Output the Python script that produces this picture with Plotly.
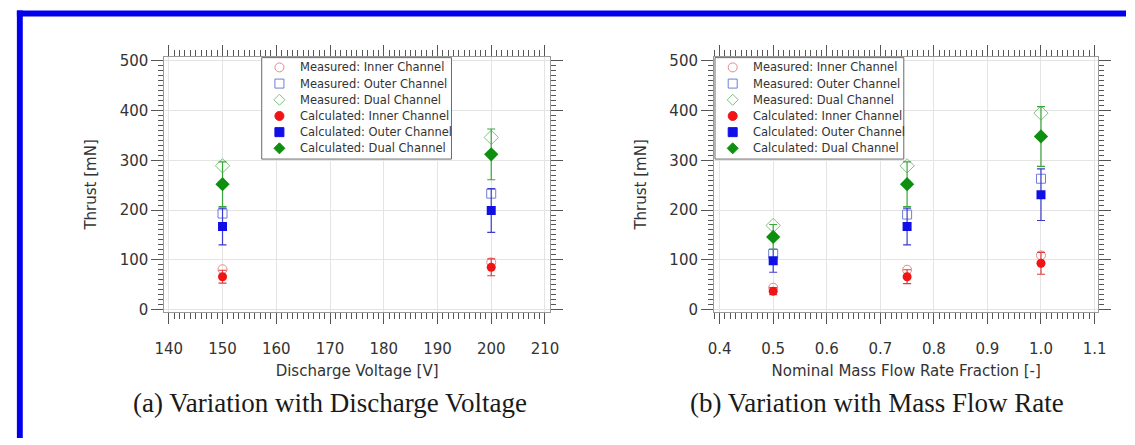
import plotly.graph_objects as go

# ---------------- data ----------------
voltage = [150, 200]
meas_inner_v = [81, 95]
meas_outer_v = [193, 233]
meas_dual_v = [289, 346]
calc_inner_v = [66, 85]
calc_inner_v_err = [13, 17]
calc_outer_v = [167, 199]
calc_outer_v_err = [37, 44]
calc_dual_v = [252, 312]
calc_dual_v_err = [45, 51]

flow = [0.5, 0.75, 1.0]
meas_inner_f = [44, 80, 109]
meas_outer_f = [112, 191, 263]
meas_dual_f = [169, 289, 395]
calc_inner_f = [37, 66, 93]
calc_inner_f_err = [7, 14, 22]
calc_outer_f = [98, 167, 231]
calc_outer_f_err = [23, 37, 52]
calc_dual_f = [146, 252, 348]
calc_dual_f_err = [25, 45, 60]

names = ["Measured: Inner Channel", "Measured: Outer Channel", "Measured: Dual Channel",
         "Calculated: Inner Channel", "Calculated: Outer Channel", "Calculated: Dual Channel"]

W, H = 1135, 445

def px(x):
    return x / W

def py(y):
    return 1 - y / H

MEAS_STYLE = [
    dict(symbol="circle-open", color="#e38b8b", size=9),
    dict(symbol="square-open", color="#6f7fd6", size=9),
    dict(symbol="diamond-open", color="#7cc47c", size=11),
]
CALC_STYLE = [
    dict(symbol="circle", color="#f01414", size=9, err="#e23a3a"),
    dict(symbol="square", color="#1010e6", size=9, err="#3b3bd0"),
    dict(symbol="diamond", color="#0f8f0f", size=11, err="#3aa53a"),
]

fig = go.Figure()

def add_panel(xv, meas, calc, errs, xa, ya):
    for i, m in enumerate(meas):
        s = MEAS_STYLE[i]
        fig.add_trace(go.Scatter(
            x=xv, y=m, mode="markers", name=names[i], xaxis=xa, yaxis=ya,
            marker=dict(symbol=s["symbol"], size=s["size"], color=s["color"],
                        line=dict(width=1, color=s["color"]))))
    for i, (c, e) in enumerate(zip(calc, errs)):
        s = CALC_STYLE[i]
        fig.add_trace(go.Scatter(
            x=xv, y=c, mode="markers", name=names[3 + i], xaxis=xa, yaxis=ya,
            error_y=dict(type="data", array=e, visible=True, color=s["err"], thickness=1.2, width=4),
            marker=dict(symbol=s["symbol"], size=s["size"], color=s["color"],
                        line=dict(width=0))))

add_panel(voltage, [meas_inner_v, meas_outer_v, meas_dual_v],
          [calc_inner_v, calc_outer_v, calc_dual_v],
          [calc_inner_v_err, calc_outer_v_err, calc_dual_v_err], "x", "y")
add_panel(flow, [meas_inner_f, meas_outer_f, meas_dual_f],
          [calc_inner_f, calc_outer_f, calc_dual_f],
          [calc_inner_f_err, calc_outer_f_err, calc_dual_f_err], "x2", "y2")

tickfont = dict(family="DejaVu Sans", size=15, color="#333333")
titlefont = dict(family="DejaVu Sans", size=15, color="#333333")

def xaxis_cfg(dom, rng, dtick, mdtick, title, anchor, fmt):
    return dict(domain=dom, range=rng, dtick=dtick, anchor=anchor, tickformat=fmt,
                showline=True, linecolor="#9a9a9a", linewidth=1, mirror="allticks",
                ticks="outside", ticklen=11, tickwidth=1, tickcolor="#555555",
                minor=dict(ticks="outside", ticklen=6, dtick=mdtick, tickcolor="#555555", showgrid=False),
                showgrid=True, gridcolor="#e4e4e4", gridwidth=1, zeroline=False,
                tickfont=tickfont, ticklabelstandoff=12,
                title=dict(text=title, font=titlefont, standoff=8))

def yaxis_cfg(dom, anchor):
    return dict(domain=dom, range=[-5.3, 508.4], dtick=100, anchor=anchor,
                showline=True, linecolor="#9a9a9a", linewidth=1, mirror="allticks",
                ticks="outside", ticklen=12, tickwidth=1, tickcolor="#555555",
                minor=dict(ticks="outside", ticklen=5, dtick=10, tickcolor="#555555", showgrid=False),
                showgrid=True, gridcolor="#e4e4e4", gridwidth=1, zeroline=False,
                tickfont=tickfont,
                title=dict(text="Thrust [mN]", font=titlefont, standoff=19))

ydom = [py(316), py(54)]
fig.update_layout(
    width=W, height=H, margin=dict(l=0, r=0, t=0, b=0),
    paper_bgcolor="white", plot_bgcolor="white", showlegend=False,
    xaxis=xaxis_cfg([px(157), px(549)], [139.18, 210.9], 10, 1, "Discharge Voltage [V]", "y", None),
    yaxis=yaxis_cfg(ydom, "x"),
    xaxis2=xaxis_cfg([px(716), px(1107)], [0.3895, 1.1073], 0.1, 0.01,
                     "Nominal Mass Flow Rate Fraction [-]", "y2", ".1f"),
    yaxis2=yaxis_cfg(ydom, "x2"),
)

# ---------- compact legends (box + symbols + text) ----------
LEG_STYLE = [
    ("circle", "#e38b8b", False, 4.5),
    ("rect", "#6f7fd6", False, 4.5),
    ("diamond", "#7cc47c", False, 5.5),
    ("circle", "#f01414", True, 4.5),
    ("rect", "#1010e6", True, 4.5),
    ("diamond", "#0f8f0f", True, 5.5),
]

def add_legend(left, top, width, height):
    fig.add_shape(type="rect", xref="paper", yref="paper",
                  x0=px(left), x1=px(left + width), y0=py(top + height), y1=py(top),
                  fillcolor="white", line=dict(color="#6a6a6a", width=1), layer="above")
    for i, name in enumerate(names):
        cy = top + 10 + 16.6 * i
        kind, col, filled, r = LEG_STYLE[i]
        common = dict(xref="paper", yref="paper", xsizemode="pixel", ysizemode="pixel",
                      xanchor=px(left + 18), yanchor=py(cy), layer="above",
                      line=dict(color=col, width=1),
                      fillcolor=col if filled else "rgba(0,0,0,0)")
        if kind == "diamond":
            fig.add_shape(type="path", path=f"M 0 {r} L {r} 0 L 0 -{r} L -{r} 0 Z", **common)
        else:
            fig.add_shape(type=kind, x0=-r, x1=r, y0=-r, y1=r, **common)
        fig.add_annotation(text=name, x=px(left + 37), y=py(cy), xref="paper", yref="paper",
                           xanchor="left", yanchor="middle", showarrow=False,
                           font=dict(family="DejaVu Sans", size=11.5, color="#333333"))

add_legend(256, 55, 193, 104)
add_legend(717, 55, 192, 104)

# captions
cap_font = dict(family="Liberation Serif", size=27, color="#1a1a1a")
fig.add_annotation(text="(a) Variation with Discharge Voltage", x=px(325), y=py(409),
                   xref="paper", yref="paper", xanchor="center", yanchor="middle",
                   showarrow=False, font=cap_font)
fig.add_annotation(text="(b) Variation with Mass Flow Rate", x=px(882), y=py(409),
                   xref="paper", yref="paper", xanchor="center", yanchor="middle",
                   showarrow=False, font=cap_font)

# blue frame (top and left edges visible)
fig.add_shape(type="rect", xref="paper", yref="paper", x0=px(7), x1=1.0, y0=py(12.7), y1=py(6.7),
              fillcolor="#0000ee", line=dict(width=0), layer="above")
fig.add_shape(type="rect", xref="paper", yref="paper", x0=px(7), x1=px(13), y0=0.0, y1=py(6.7),
              fillcolor="#0000ee", line=dict(width=0), layer="above")

fig.write_html("out.html")
